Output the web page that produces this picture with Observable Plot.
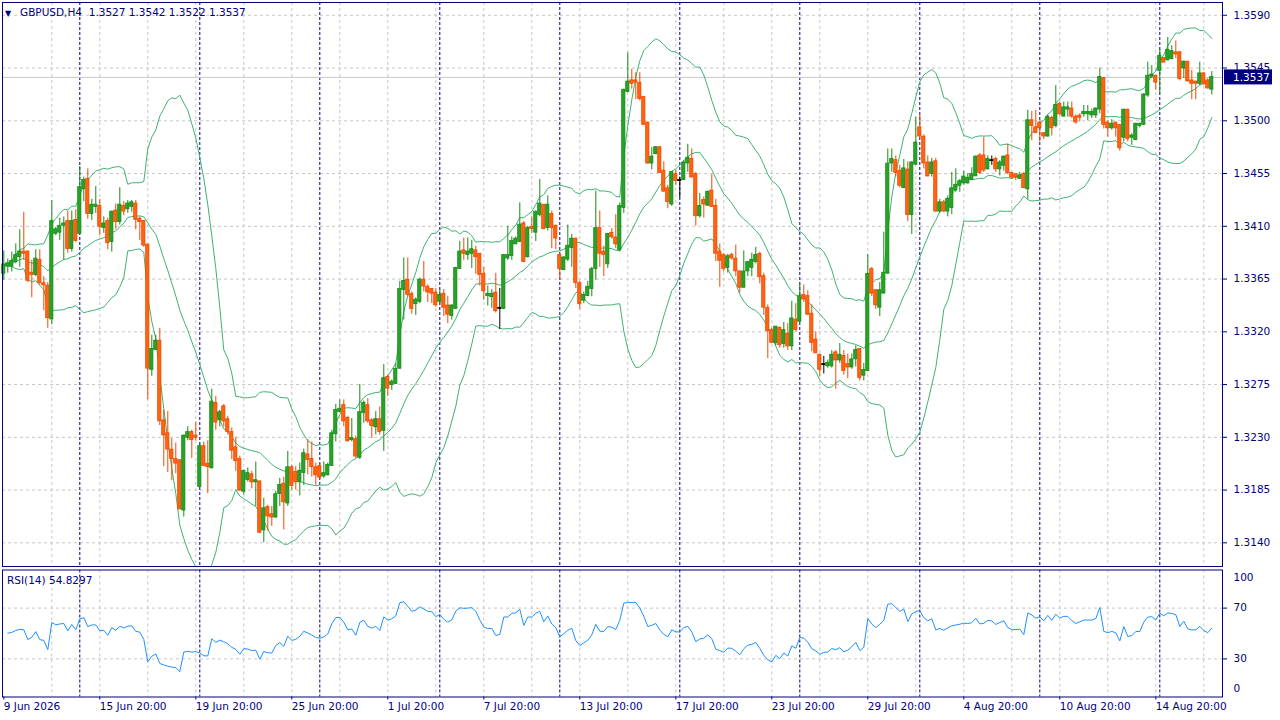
<!DOCTYPE html>
<html><head><meta charset="utf-8">
<script src="https://cdn.jsdelivr.net/npm/d3@7"></script>
<script src="https://cdn.jsdelivr.net/npm/@observablehq/plot@0.6"></script>
<style>
html,body{margin:0;padding:0;background:#fff;}
#wrap{position:relative;width:1280px;height:720px;overflow:hidden;font-family:"DejaVu Sans",sans-serif;}
#main,#rsi{position:absolute;left:0;}
#main{top:0;} #rsi{top:568px;}
.lbl{position:absolute;color:#000080;font-size:10.5px;white-space:pre;line-height:12px;}
.tri{font-size:8px;display:inline-block;width:15px;}
</style></head><body>
<div id="wrap"><div id="main"></div><div id="rsi"></div>
<div class="lbl" style="left:5px;top:6px"><span class="tri">▼</span>GBPUSD,H4  1.3527 1.3542 1.3522 1.3537</div>
<div class="lbl" style="left:7px;top:574px">RSI(14) 54.8297</div>
</div>
<script>
// ---- data (H4 bars, index 0 = 9 Jun 2026 20:00) ----
const open = [
1.3370,1.3376,1.3376,1.3380,1.3384,1.3388,1.3388,1.3370,1.3369,1.3381,
1.3361,1.3359,1.3331,1.3404,1.3405,1.3411,1.3414,1.3391,1.3415,1.3404,
1.3442,1.3450,1.3421,1.3427,1.3427,1.3409,1.3414,1.3397,1.3423,1.3414,
1.3427,1.3425,1.3427,1.3429,1.3416,1.3414,1.3394,1.3288,1.3305,1.3312,
1.3244,1.3233,1.3219,1.3211,1.3210,1.3168,1.3230,1.3234,1.3231,1.3188,
1.3222,1.3207,1.3204,1.3259,1.3245,1.3256,1.3245,1.3234,1.3221,1.3211,
1.3184,1.3194,1.3198,1.3192,1.3192,1.3151,1.3170,1.3164,1.3162,1.3182,
1.3190,1.3174,1.3204,1.3200,1.3192,1.3200,1.3215,1.3211,1.3204,1.3205,
1.3197,1.3198,1.3206,1.3233,1.3252,1.3257,1.3246,1.3228,1.3228,1.3213,
1.3251,1.3257,1.3244,1.3239,1.3245,1.3236,1.3281,1.3275,1.3276,1.3289,
1.3356,1.3364,1.3352,1.3344,1.3346,1.3364,1.3358,1.3356,1.3353,1.3346,
1.3352,1.3342,1.3334,1.3340,1.3374,1.3389,1.3386,1.3387,1.3389,1.3386,
1.3369,1.3351,1.3350,1.3353,1.3340,1.3340,1.3383,1.3385,1.3395,1.3397,
1.3412,1.3384,1.3409,1.3405,1.3420,1.3428,1.3409,1.3420,1.3410,1.3385,
1.3373,1.3382,1.3392,1.3399,1.3361,1.3347,1.3351,1.3357,1.3374,1.3408,
1.3388,1.3378,1.3404,1.3400,1.3390,1.3426,1.3525,1.3534,1.3534,1.3532,
1.3520,1.3498,1.3464,1.3472,1.3477,1.3457,1.3442,1.3429,1.3454,1.3449,
1.3450,1.3464,1.3467,1.3454,1.3419,1.3432,1.3428,1.3440,1.3427,1.3388,
1.3385,1.3375,1.3385,1.3382,1.3371,1.3358,1.3372,1.3375,1.3380,1.3386,
1.3367,1.3340,1.3321,1.3311,1.3323,1.3310,1.3318,1.3308,1.3330,1.3329,
1.3351,1.3350,1.3335,1.3313,1.3300,1.3292,1.3291,1.3291,1.3302,1.3296,
1.3299,1.3292,1.3290,1.3297,1.3305,1.3283,1.3287,1.3373,1.3355,1.3341,
1.3353,1.3370,1.3464,1.3466,1.3457,1.3443,1.3458,1.3420,1.3463,1.3494,
1.3486,1.3464,1.3455,1.3465,1.3423,1.3430,1.3423,1.3426,1.3441,1.3445,
1.3447,1.3447,1.3450,1.3453,1.3470,1.3470,1.3459,1.3466,1.3467,1.3459,
1.3462,1.3470,1.3455,1.3454,1.3451,1.3454,1.3442,1.3500,1.3494,1.3498,
1.3489,1.3487,1.3502,1.3496,1.3514,1.3504,1.3510,1.3510,1.3503,1.3504,
1.3506,1.3506,1.3505,1.3505,1.3510,1.3536,1.3498,1.3494,1.3498,1.3496,
1.3486,1.3509,1.3486,1.3484,1.3496,1.3497,1.3522,1.3538,1.3538,1.3543,
1.3553,1.3552,1.3553,1.3558,1.3558,1.3545,1.3550,1.3534,1.3533,1.3532,
1.3540,1.3534,1.3527];
const high = [
1.3389,1.3382,1.3388,1.3395,1.3407,1.3422,1.3389,1.3381,1.3390,1.3390,
1.3367,1.3362,1.3432,1.3409,1.3417,1.3418,1.3423,1.3423,1.3424,1.3461,
1.3452,1.3459,1.3433,1.3444,1.3433,1.3418,1.3417,1.3423,1.3429,1.3443,
1.3431,1.3432,1.3432,1.3432,1.3418,1.3415,1.3394,1.3317,1.3317,1.3323,
1.3253,1.3252,1.3229,1.3225,1.3211,1.3232,1.3239,1.3236,1.3243,1.3225,
1.3226,1.3227,1.3271,1.3265,1.3253,1.3258,1.3248,1.3238,1.3230,1.3214,
1.3202,1.3204,1.3201,1.3209,1.3192,1.3178,1.3172,1.3171,1.3184,1.3195,
1.3196,1.3218,1.3206,1.3205,1.3208,1.3220,1.3228,1.3226,1.3208,1.3208,
1.3209,1.3208,1.3236,1.3258,1.3262,1.3262,1.3248,1.3246,1.3231,1.3275,
1.3261,1.3263,1.3246,1.3252,1.3256,1.3292,1.3283,1.3279,1.3293,1.3363,
1.3383,1.3383,1.3354,1.3349,1.3366,1.3380,1.3360,1.3357,1.3357,1.3356,
1.3356,1.3350,1.3343,1.3375,1.3397,1.3400,1.3400,1.3398,1.3393,1.3387,
1.3375,1.3359,1.3356,1.3370,1.3357,1.3386,1.3410,1.3401,1.3401,1.3430,
1.3414,1.3410,1.3418,1.3423,1.3450,1.3428,1.3436,1.3423,1.3411,1.3387,
1.3384,1.3411,1.3403,1.3400,1.3363,1.3354,1.3363,1.3375,1.3440,1.3423,
1.3393,1.3404,1.3408,1.3420,1.3430,1.3527,1.3558,1.3544,1.3541,1.3541,
1.3520,1.3499,1.3477,1.3478,1.3478,1.3465,1.3445,1.3456,1.3458,1.3452,
1.3466,1.3480,1.3476,1.3456,1.3438,1.3435,1.3440,1.3454,1.3433,1.3395,
1.3387,1.3386,1.3387,1.3394,1.3372,1.3389,1.3380,1.3387,1.3392,1.3388,
1.3370,1.3343,1.3323,1.3324,1.3324,1.3328,1.3327,1.3346,1.3344,1.3361,
1.3360,1.3355,1.3343,1.3320,1.3301,1.3299,1.3296,1.3304,1.3304,1.3310,
1.3304,1.3301,1.3301,1.3308,1.3305,1.3293,1.3386,1.3375,1.3356,1.3362,
1.3405,1.3476,1.3476,1.3470,1.3462,1.3467,1.3465,1.3465,1.3503,1.3505,
1.3488,1.3470,1.3468,1.3468,1.3433,1.3432,1.3436,1.3456,1.3459,1.3450,
1.3457,1.3455,1.3460,1.3470,1.3472,1.3486,1.3470,1.3470,1.3469,1.3466,
1.3470,1.3480,1.3456,1.3454,1.3456,1.3456,1.3509,1.3508,1.3509,1.3500,
1.3490,1.3505,1.3504,1.3530,1.3516,1.3516,1.3516,1.3516,1.3505,1.3506,
1.3513,1.3513,1.3510,1.3511,1.3545,1.3536,1.3500,1.3501,1.3499,1.3497,
1.3510,1.3510,1.3489,1.3498,1.3498,1.3523,1.3550,1.3547,1.3538,1.3561,
1.3554,1.3571,1.3564,1.3568,1.3559,1.3551,1.3550,1.3543,1.3534,1.3550,
1.3541,1.3536,1.3542];
const low = [
1.3364,1.3370,1.3371,1.3378,1.3375,1.3381,1.3362,1.3349,1.3367,1.3360,
1.3338,1.3323,1.3326,1.3402,1.3398,1.3381,1.3387,1.3388,1.3396,1.3404,
1.3431,1.3416,1.3415,1.3421,1.3402,1.3404,1.3390,1.3388,1.3407,1.3411,
1.3419,1.3421,1.3422,1.3407,1.3398,1.3392,1.3262,1.3282,1.3304,1.3240,
1.3205,1.3200,1.3193,1.3199,1.3168,1.3162,1.3227,1.3212,1.3227,1.3187,
1.3205,1.3182,1.3203,1.3236,1.3239,1.3239,1.3232,1.3211,1.3201,1.3184,
1.3181,1.3192,1.3186,1.3171,1.3148,1.3140,1.3150,1.3154,1.3161,1.3171,
1.3151,1.3171,1.3185,1.3185,1.3180,1.3189,1.3198,1.3196,1.3189,1.3194,
1.3195,1.3197,1.3205,1.3226,1.3251,1.3239,1.3226,1.3226,1.3212,1.3211,
1.3242,1.3242,1.3229,1.3232,1.3232,1.3218,1.3265,1.3270,1.3275,1.3288,
1.3330,1.3350,1.3335,1.3334,1.3344,1.3354,1.3345,1.3344,1.3341,1.3343,
1.3333,1.3327,1.3330,1.3339,1.3374,1.3381,1.3381,1.3374,1.3369,1.3359,
1.3347,1.3342,1.3340,1.3336,1.3322,1.3339,1.3381,1.3381,1.3395,1.3397,
1.3379,1.3383,1.3404,1.3397,1.3418,1.3407,1.3406,1.3391,1.3390,1.3364,
1.3373,1.3380,1.3375,1.3357,1.3339,1.3344,1.3350,1.3350,1.3364,1.3375,
1.3367,1.3374,1.3399,1.3391,1.3388,1.3421,1.3524,1.3527,1.3518,1.3517,
1.3496,1.3463,1.3458,1.3471,1.3455,1.3439,1.3425,1.3427,1.3445,1.3434,
1.3449,1.3456,1.3452,1.3410,1.3417,1.3417,1.3427,1.3426,1.3380,1.3358,
1.3371,1.3370,1.3381,1.3367,1.3353,1.3358,1.3367,1.3367,1.3378,1.3361,
1.3334,1.3297,1.3310,1.3308,1.3306,1.3306,1.3304,1.3304,1.3320,1.3328,
1.3345,1.3334,1.3303,1.3302,1.3282,1.3284,1.3289,1.3289,1.3271,1.3293,
1.3283,1.3280,1.3288,1.3290,1.3278,1.3278,1.3286,1.3350,1.3339,1.3333,
1.3353,1.3369,1.3456,1.3452,1.3443,1.3442,1.3414,1.3403,1.3462,1.3485,
1.3459,1.3452,1.3452,1.3422,1.3421,1.3422,1.3418,1.3420,1.3439,1.3439,
1.3445,1.3446,1.3450,1.3453,1.3454,1.3456,1.3458,1.3462,1.3456,1.3453,
1.3457,1.3454,1.3450,1.3449,1.3450,1.3442,1.3433,1.3483,1.3489,1.3482,
1.3484,1.3486,1.3487,1.3494,1.3504,1.3503,1.3503,1.3502,1.3497,1.3499,
1.3503,1.3500,1.3502,1.3502,1.3506,1.3493,1.3486,1.3492,1.3486,1.3474,
1.3482,1.3482,1.3479,1.3483,1.3494,1.3496,1.3520,1.3536,1.3526,1.3523,
1.3550,1.3551,1.3552,1.3553,1.3534,1.3536,1.3533,1.3518,1.3518,1.3530,
1.3530,1.3527,1.3522];
const close = [
1.3377,1.3378,1.3380,1.3385,1.3388,1.3387,1.3364,1.3369,1.3382,1.3362,
1.3360,1.3332,1.3414,1.3407,1.3410,1.3412,1.3391,1.3414,1.3398,1.3443,
1.3449,1.3421,1.3428,1.3428,1.3410,1.3412,1.3396,1.3422,1.3414,1.3428,
1.3423,1.3429,1.3430,1.3416,1.3414,1.3394,1.3289,1.3305,1.3312,1.3244,
1.3232,1.3220,1.3212,1.3208,1.3169,1.3231,1.3234,1.3228,1.3230,1.3222,
1.3206,1.3205,1.3260,1.3243,1.3251,1.3244,1.3235,1.3219,1.3210,1.3185,
1.3201,1.3199,1.3192,1.3193,1.3149,1.3169,1.3163,1.3162,1.3181,1.3189,
1.3175,1.3204,1.3189,1.3192,1.3201,1.3216,1.3211,1.3205,1.3198,1.3196,
1.3199,1.3206,1.3233,1.3253,1.3254,1.3244,1.3227,1.3229,1.3214,1.3251,
1.3259,1.3244,1.3240,1.3245,1.3235,1.3280,1.3272,1.3277,1.3288,1.3356,
1.3363,1.3352,1.3340,1.3347,1.3364,1.3359,1.3354,1.3353,1.3343,1.3351,
1.3341,1.3335,1.3342,1.3374,1.3388,1.3387,1.3388,1.3390,1.3384,1.3369,
1.3355,1.3352,1.3352,1.3338,1.3340,1.3385,1.3385,1.3397,1.3399,1.3411,
1.3380,1.3408,1.3408,1.3422,1.3429,1.3408,1.3428,1.3409,1.3400,1.3374,
1.3383,1.3393,1.3399,1.3362,1.3344,1.3351,1.3358,1.3373,1.3408,1.3387,
1.3386,1.3403,1.3401,1.3395,1.3427,1.3526,1.3533,1.3532,1.3533,1.3519,
1.3497,1.3464,1.3469,1.3477,1.3456,1.3440,1.3431,1.3456,1.3449,1.3449,
1.3464,1.3468,1.3452,1.3419,1.3427,1.3429,1.3439,1.3427,1.3387,1.3381,
1.3374,1.3384,1.3383,1.3372,1.3358,1.3371,1.3379,1.3381,1.3385,1.3367,
1.3341,1.3321,1.3311,1.3324,1.3309,1.3321,1.3308,1.3331,1.3322,1.3350,
1.3348,1.3335,1.3311,1.3302,1.3288,1.3292,1.3293,1.3300,1.3296,1.3300,
1.3287,1.3290,1.3296,1.3304,1.3281,1.3287,1.3369,1.3353,1.3343,1.3355,
1.3370,1.3463,1.3467,1.3456,1.3445,1.3459,1.3420,1.3464,1.3481,1.3487,
1.3464,1.3453,1.3464,1.3423,1.3430,1.3423,1.3433,1.3442,1.3445,1.3448,
1.3452,1.3451,1.3454,1.3469,1.3456,1.3458,1.3467,1.3466,1.3459,1.3464,
1.3469,1.3456,1.3452,1.3452,1.3453,1.3443,1.3500,1.3496,1.3490,1.3494,
1.3487,1.3503,1.3494,1.3513,1.3506,1.3511,1.3511,1.3504,1.3499,1.3503,
1.3507,1.3507,1.3507,1.3510,1.3537,1.3497,1.3494,1.3497,1.3494,1.3477,
1.3509,1.3485,1.3487,1.3497,1.3497,1.3522,1.3538,1.3539,1.3533,1.3555,
1.3550,1.3560,1.3559,1.3557,1.3536,1.3550,1.3534,1.3532,1.3532,1.3540,
1.3532,1.3528,1.3537];

const priceTicks = [1.3140,1.3185,1.3230,1.3275,1.3320,1.3365,1.3410,1.3455,1.3500,1.3545,1.3590];
const rsiTicks = [30, 70];
const rsiTop = [100], rsiBottom = [0];
const timeLabelIdx = [0,24,48,72,96,120,144,168,192,216,240,264,288];
const timeLabels = ["9 Jun 2026","15 Jun 20:00","19 Jun 20:00","25 Jun 20:00","1 Jul 20:00","7 Jul 20:00","13 Jul 20:00","17 Jul 20:00","23 Jul 20:00","29 Jul 20:00","4 Aug 20:00","10 Aug 20:00","14 Aug 20:00"];
const weekStartIdx = [19,49,79,109,139,169,199,229,259,289];
const gridIdx = [12,24,36,48,60,72,84,96,108,120,132,144,156,168,180,192,204,216,228,240,252,264,276,288,300];
const bbPeriod = 20, bbDev = 2, rsiPeriod = 14;

// ---- styles ----
const NAVY = "#000080", GRID = "#c6c6c6", BAND = "#3cb371", RSIC = "#1e90ff";
const BULL_F = "#27a327", BULL_S = "#168a16", BEAR_F = "#ff6410", BEAR_S = "#f04800", DOJI = "#000000";

const N = close.length;
const bars = d3.range(N).map(i => ({i, o: open[i], h: high[i], l: low[i], c: close[i], dir: Math.sign(Math.round((close[i]-open[i])*1e5))}));
const sCol = d => d.dir > 0 ? BULL_S : d.dir < 0 ? BEAR_S : DOJI;
const fCol = d => d.dir > 0 ? BULL_F : d.dir < 0 ? BEAR_F : DOJI;

// Bollinger bands (20, 2) on close
const bb = d3.range(N).map(i => {
  const w = close.slice(Math.max(0, i - bbPeriod + 1), i + 1);
  const m = d3.mean(w);
  const sd = Math.sqrt(d3.mean(w, v => (v - m) ** 2));
  return {i, mid: m, up: m + bbDev * sd, dn: m - bbDev * sd};
});

// RSI(14), Wilder smoothing, warm-up from the mean absolute change
const ch = d3.range(1, N).map(i => close[i] - close[i-1]);
let ag = d3.mean(ch.slice(0, rsiPeriod), Math.abs) / 2, al = ag;
const rsi = [];
for (let i = 1; i < N; i++) {
  const c = ch[i-1];
  ag = (ag * (rsiPeriod - 1) + Math.max(c, 0)) / rsiPeriod;
  al = (al * (rsiPeriod - 1) + Math.max(-c, 0)) / rsiPeriod;
  rsi.push({i, v: al === 0 ? 100 : 100 - 100 / (1 + ag / al)});
}

const xScale = {type: "linear", domain: [-0.325, 304.675]};
const font = {fontFamily: "DejaVu Sans, sans-serif", fontSize: "10.5px", color: NAVY, background: "transparent", overflow: "visible"};

const mainPlot = Plot.plot({
  width: 1280, height: 568,
  marginLeft: 2, marginRight: 58, marginTop: 2, marginBottom: 2,
  x: {...xScale, axis: null},
  y: {domain: [1.31198, 1.36009], axis: null},
  style: font,
  marks: [
    Plot.ruleY(priceTicks, {y: d => d, stroke: GRID, strokeDasharray: "3,3"}),
    Plot.ruleX(gridIdx, {x: d => d, stroke: GRID, strokeDasharray: "3,3"}),
    Plot.ruleX(weekStartIdx, {x: d => d, stroke: NAVY, strokeDasharray: "3,2"}),
    Plot.ruleY([close[N-1]], {y: d => d, stroke: "#c8c8c8"}),
    Plot.line(bb, {x: "i", y: "up", stroke: BAND, strokeWidth: 1, clip: true}),
    Plot.line(bb, {x: "i", y: "mid", stroke: BAND, strokeWidth: 1, clip: true}),
    Plot.line(bb, {x: "i", y: "dn", stroke: BAND, strokeWidth: 1, clip: true}),
    Plot.ruleX(bars, {x: "i", y1: "l", y2: "h", stroke: sCol, strokeWidth: 1}),
    Plot.rect(bars, {x1: d => d.i - 0.4, x2: d => d.i + 0.4, y1: "o", y2: "c", fill: fCol, stroke: sCol, strokeWidth: 0.8, insetTop: -0.5, insetBottom: -0.5}),
    Plot.frame({stroke: NAVY}),
    Plot.axisY(priceTicks, {anchor: "right", tickFormat: d => d.toFixed(4), tickSize: 4, tickPadding: 7, label: null})
  ]
});
document.getElementById("main").appendChild(mainPlot);
// current price label on the right axis
{
  const yp = mainPlot.scale("y").apply(close[N-1]);
  const svg = d3.select(mainPlot);
  svg.append("rect").attr("x", 1224).attr("y", yp - 7.5).attr("width", 48).attr("height", 15).attr("fill", NAVY);
  svg.append("text").attr("x", 1233).attr("y", yp).attr("dy", "0.36em").attr("text-anchor", "start")
    .attr("fill", "#fff").attr("font-size", "10.5px").text(close[N-1].toFixed(4));
}

const rsiPlot = Plot.plot({
  width: 1280, height: 152,
  marginLeft: 2, marginRight: 58, marginTop: 1.5, marginBottom: 23.5,
  x: {...xScale, axis: null},
  y: {domain: [0, 100], axis: null},
  style: font,
  marks: [
    Plot.ruleY(rsiTicks, {y: d => d, stroke: GRID, strokeDasharray: "3,3"}),
    Plot.ruleX(gridIdx, {x: d => d, stroke: GRID, strokeDasharray: "3,3"}),
    Plot.ruleX(weekStartIdx, {x: d => d, stroke: NAVY, strokeDasharray: "3,2"}),
    Plot.line(rsi, {x: "i", y: "v", stroke: RSIC, strokeWidth: 1, clip: true}),
    Plot.frame({stroke: NAVY}),
    Plot.axisY(rsiTicks, {anchor: "right", tickSize: 4, tickPadding: 7, label: null}),
    Plot.text(rsiTop, {y: d => d, text: d => String(d), frameAnchor: "right", textAnchor: "start", dx: 11, dy: 8, fill: NAVY}),
    Plot.text(rsiBottom, {y: d => d, text: d => String(d), frameAnchor: "right", textAnchor: "start", dx: 11, dy: -8, fill: NAVY}),
    Plot.axisX(timeLabelIdx, {anchor: "bottom", tickSize: 3, tickPadding: 3, textAnchor: "start", tickFormat: d => timeLabels[timeLabelIdx.indexOf(d)], label: null})
  ]
});
document.getElementById("rsi").appendChild(rsiPlot);
</script>
</body></html>
